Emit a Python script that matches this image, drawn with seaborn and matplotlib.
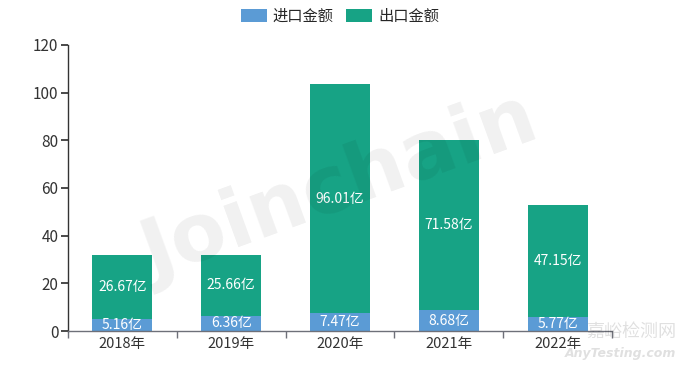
import matplotlib
matplotlib.use('Agg')
import matplotlib.pyplot as plt
import seaborn as sns
import pandas as pd
from matplotlib.patches import Patch

# 数据
years = ['2018年', '2019年', '2020年', '2021年', '2022年']
import_amt = [5.16, 6.36, 7.47, 8.68, 5.77]
export_amt = [26.67, 25.66, 96.01, 71.58, 47.15]

c_import = '#5b9bd5'
c_export = '#17a385'

sns.set_theme(style='white')
plt.rcParams['font.family'] = ['Noto Sans CJK SC', 'DejaVu Sans']

df = pd.DataFrame({'年份': years, '进口': import_amt, '出口': export_amt})
df['合计'] = df['进口'] + df['出口']

fig = plt.figure(figsize=(6.8, 3.77), dpi=100)
ax = fig.add_axes([0.1, 0.122, 0.8, 0.759])

# 堆叠：先画总高度（出口色），再画进口覆盖底部
sns.barplot(data=df, x='年份', y='合计', color=c_export, width=0.55,
            saturation=1, linewidth=0, ax=ax)
sns.barplot(data=df, x='年份', y='进口', color=c_import, width=0.55,
            saturation=1, linewidth=0, ax=ax)

# 标签
for i, (a, b) in enumerate(zip(import_amt, export_amt)):
    ax.text(i, a / 2, f'{a:.2f}亿', ha='center', va='center',
            color='white', fontsize=10)
    ax.text(i, a + b / 2, f'{b:.2f}亿', ha='center', va='center',
            color='white', fontsize=10)

ax.set_ylim(0, 120)
ax.set_xlim(-0.5, 4.5)
ax.set_yticks(range(0, 121, 20))
ax.set_xlabel('')
ax.set_ylabel('')

for s in ['top', 'right']:
    ax.spines[s].set_visible(False)
ax.spines['left'].set_color('#333333')
ax.spines['bottom'].set_color('#6e7079')
ax.spines['left'].set_linewidth(1)
ax.spines['bottom'].set_linewidth(1)

ax.tick_params(axis='y', length=5, color='#333333', labelsize=11,
               labelcolor='#333333', pad=2, left=True)
ax.tick_params(axis='x', length=0, labelsize=10.5, labelcolor='#333333', pad=4)
# x 轴刻度在类别边界
ax.set_xticks([i - 0.5 for i in range(6)], minor=True)
ax.tick_params(axis='x', which='minor', length=5, color='#6e7079', bottom=True)

# 水印
fig.text(0.5, 0.5, 'Joinchain', fontsize=58, fontweight='bold', color='#000000',
         alpha=0.06, rotation=20, ha='center', va='center',
         family='DejaVu Sans')
fig.text(0.995, 0.095, '嘉峪检测网', fontsize=13, color='#000000', alpha=0.12,
         ha='right', va='bottom')
fig.text(0.995, 0.045, 'AnyTesting.com', fontsize=9, color='#000000', alpha=0.12,
         ha='right', va='bottom', style='italic', family='DejaVu Sans',
         fontweight='bold')

handles = [Patch(facecolor=c_import, edgecolor='none', label='进口金额'),
           Patch(facecolor=c_export, edgecolor='none', label='出口金额')]
fig.legend(handles=handles, loc='upper center', bbox_to_anchor=(0.5, 1.015),
           ncol=2, frameon=False, fontsize=11, handlelength=1.7,
           handleheight=0.9, handletextpad=0.4, columnspacing=0.8)

fig.savefig('out.png', dpi=100)
